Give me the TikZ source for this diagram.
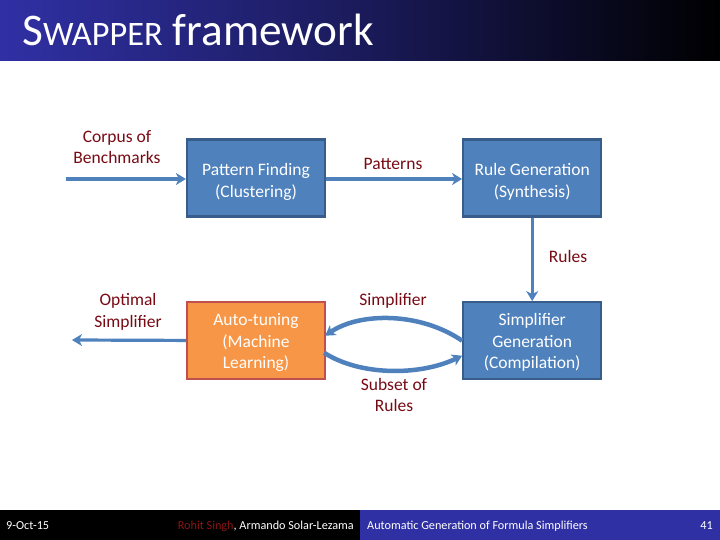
\documentclass[tikz,border=0pt]{standalone}
\usepackage{fontspec}
\setmainfont{Carlito}
\usepackage{xcolor}
\usetikzlibrary{arrows.meta,positioning,calc}

\definecolor{slideblue}{RGB}{48,48,165}
\definecolor{boxblue}{RGB}{79,129,189}
\definecolor{boxedge}{RGB}{56,93,138}
\definecolor{boxorange}{RGB}{247,150,70}
\definecolor{orangeedge}{RGB}{190,80,77}
\definecolor{labelred}{RGB}{120,10,20}
\definecolor{authorred}{RGB}{140,20,20}

\begin{document}
\begin{tikzpicture}[
  x=1pt, y=-1pt,
  >={Stealth[length=10pt,width=12pt,inset=3pt]},
  node distance=83.5pt and 136pt,
  % blue and orange boxes
  box/.style = {
    draw=boxedge, line width=2.2pt,
    fill=boxblue, text=white,
    align=center,
    font=\fontsize{17.5}{21.5}\selectfont,
    minimum width=138pt, minimum height=77pt,
    inner sep=2pt
  },
  tuning/.style = {box, draw=orangeedge, fill=boxorange},
  label/.style = {text=labelred, align=center, font=\fontsize{17.5}{21.5}\selectfont, inner sep=0pt},
  flow/.style = {->, draw=boxblue, line width=3.2pt},
  loopflow/.style = {flow, line width=4.5pt},
  foot/.style = {text=white, font=\fontsize{12.2}{14}\selectfont, inner sep=0pt}
]

\useasboundingbox (0,0) rectangle (720,540);

% ---- header and footer ----
\fill[left color=slideblue, right color=black, middle color=slideblue!55!black] (0,0) rectangle (720,61);
\fill[black] (0,510) rectangle (360,540);
\fill[slideblue] (360,510) rectangle (720,540);

\node[text=white, font=\fontsize{45.3}{47}\selectfont, anchor=base west, inner sep=0pt] (title) at (22,46)
  {S{\fontsize{34.3}{47}\selectfont WAPPER} framework};

\node[foot, anchor=west] (date) at (6,526) {9-Oct-15};
\node[foot, anchor=east] (authors) at (354,526) {\textcolor{authorred}{Rohit Singh}, Armando Solar-Lezama};
\node[foot, anchor=west] (talk) at (367,526) {Automatic Generation of Formula Simplifiers};
\node[foot, anchor=east] (page) at (713,526) {41};

% ---- boxes ----
\node[box] (finding) at (256,178) {\rule{0pt}{20pt}Pattern Finding\\(Clustering)};
\node[box, right=of finding] (synthesis) {\rule{0pt}{20pt}Rule Generation\\(Synthesis)};
\node[box, below=of synthesis] (compile) {\rule{0pt}{16pt}Simplifier\\Generation\\(Compilation)};
\node[tuning, left=of compile] (tuning) {\rule{0pt}{16pt}Auto-tuning\\(Machine\\Learning)};

% ---- free ends ----
\coordinate (corpus) at (66,179);
\coordinate (optimal) at (72,340);

% ---- labels ----
\node[label] (lcorpus) at (117,147) {Corpus of\\Benchmarks};
\node[label] (lpatterns) at (393,164) {Patterns};
\node[label] (lrules) at (568,256) {Rules};
\node[label] (loptimal) at (128,312) {Optimal\\Simplifier};
\node[label] (lsimp) at (393,301) {Simplifier};
\node[label] (lsubset) at (394,395) {Subset of\\Rules};

% ---- arrows ----
\draw[flow] (corpus) -- (finding.west |- corpus);
\draw[flow] (finding.east |- corpus) -- (synthesis.west |- corpus);
\draw[flow] (synthesis) -- (compile);
\draw[flow] (tuning) -- (optimal);
\draw[loopflow] (compile.west) .. controls (420,312) and (360,312) .. ($(tuning.east)+(-1,-5)$);
\draw[loopflow] ($(tuning.east)+(-2,12)$) .. controls (360,376) and (420,376) .. ($(compile.west)+(0,15)$);

\end{tikzpicture}
\end{document}
